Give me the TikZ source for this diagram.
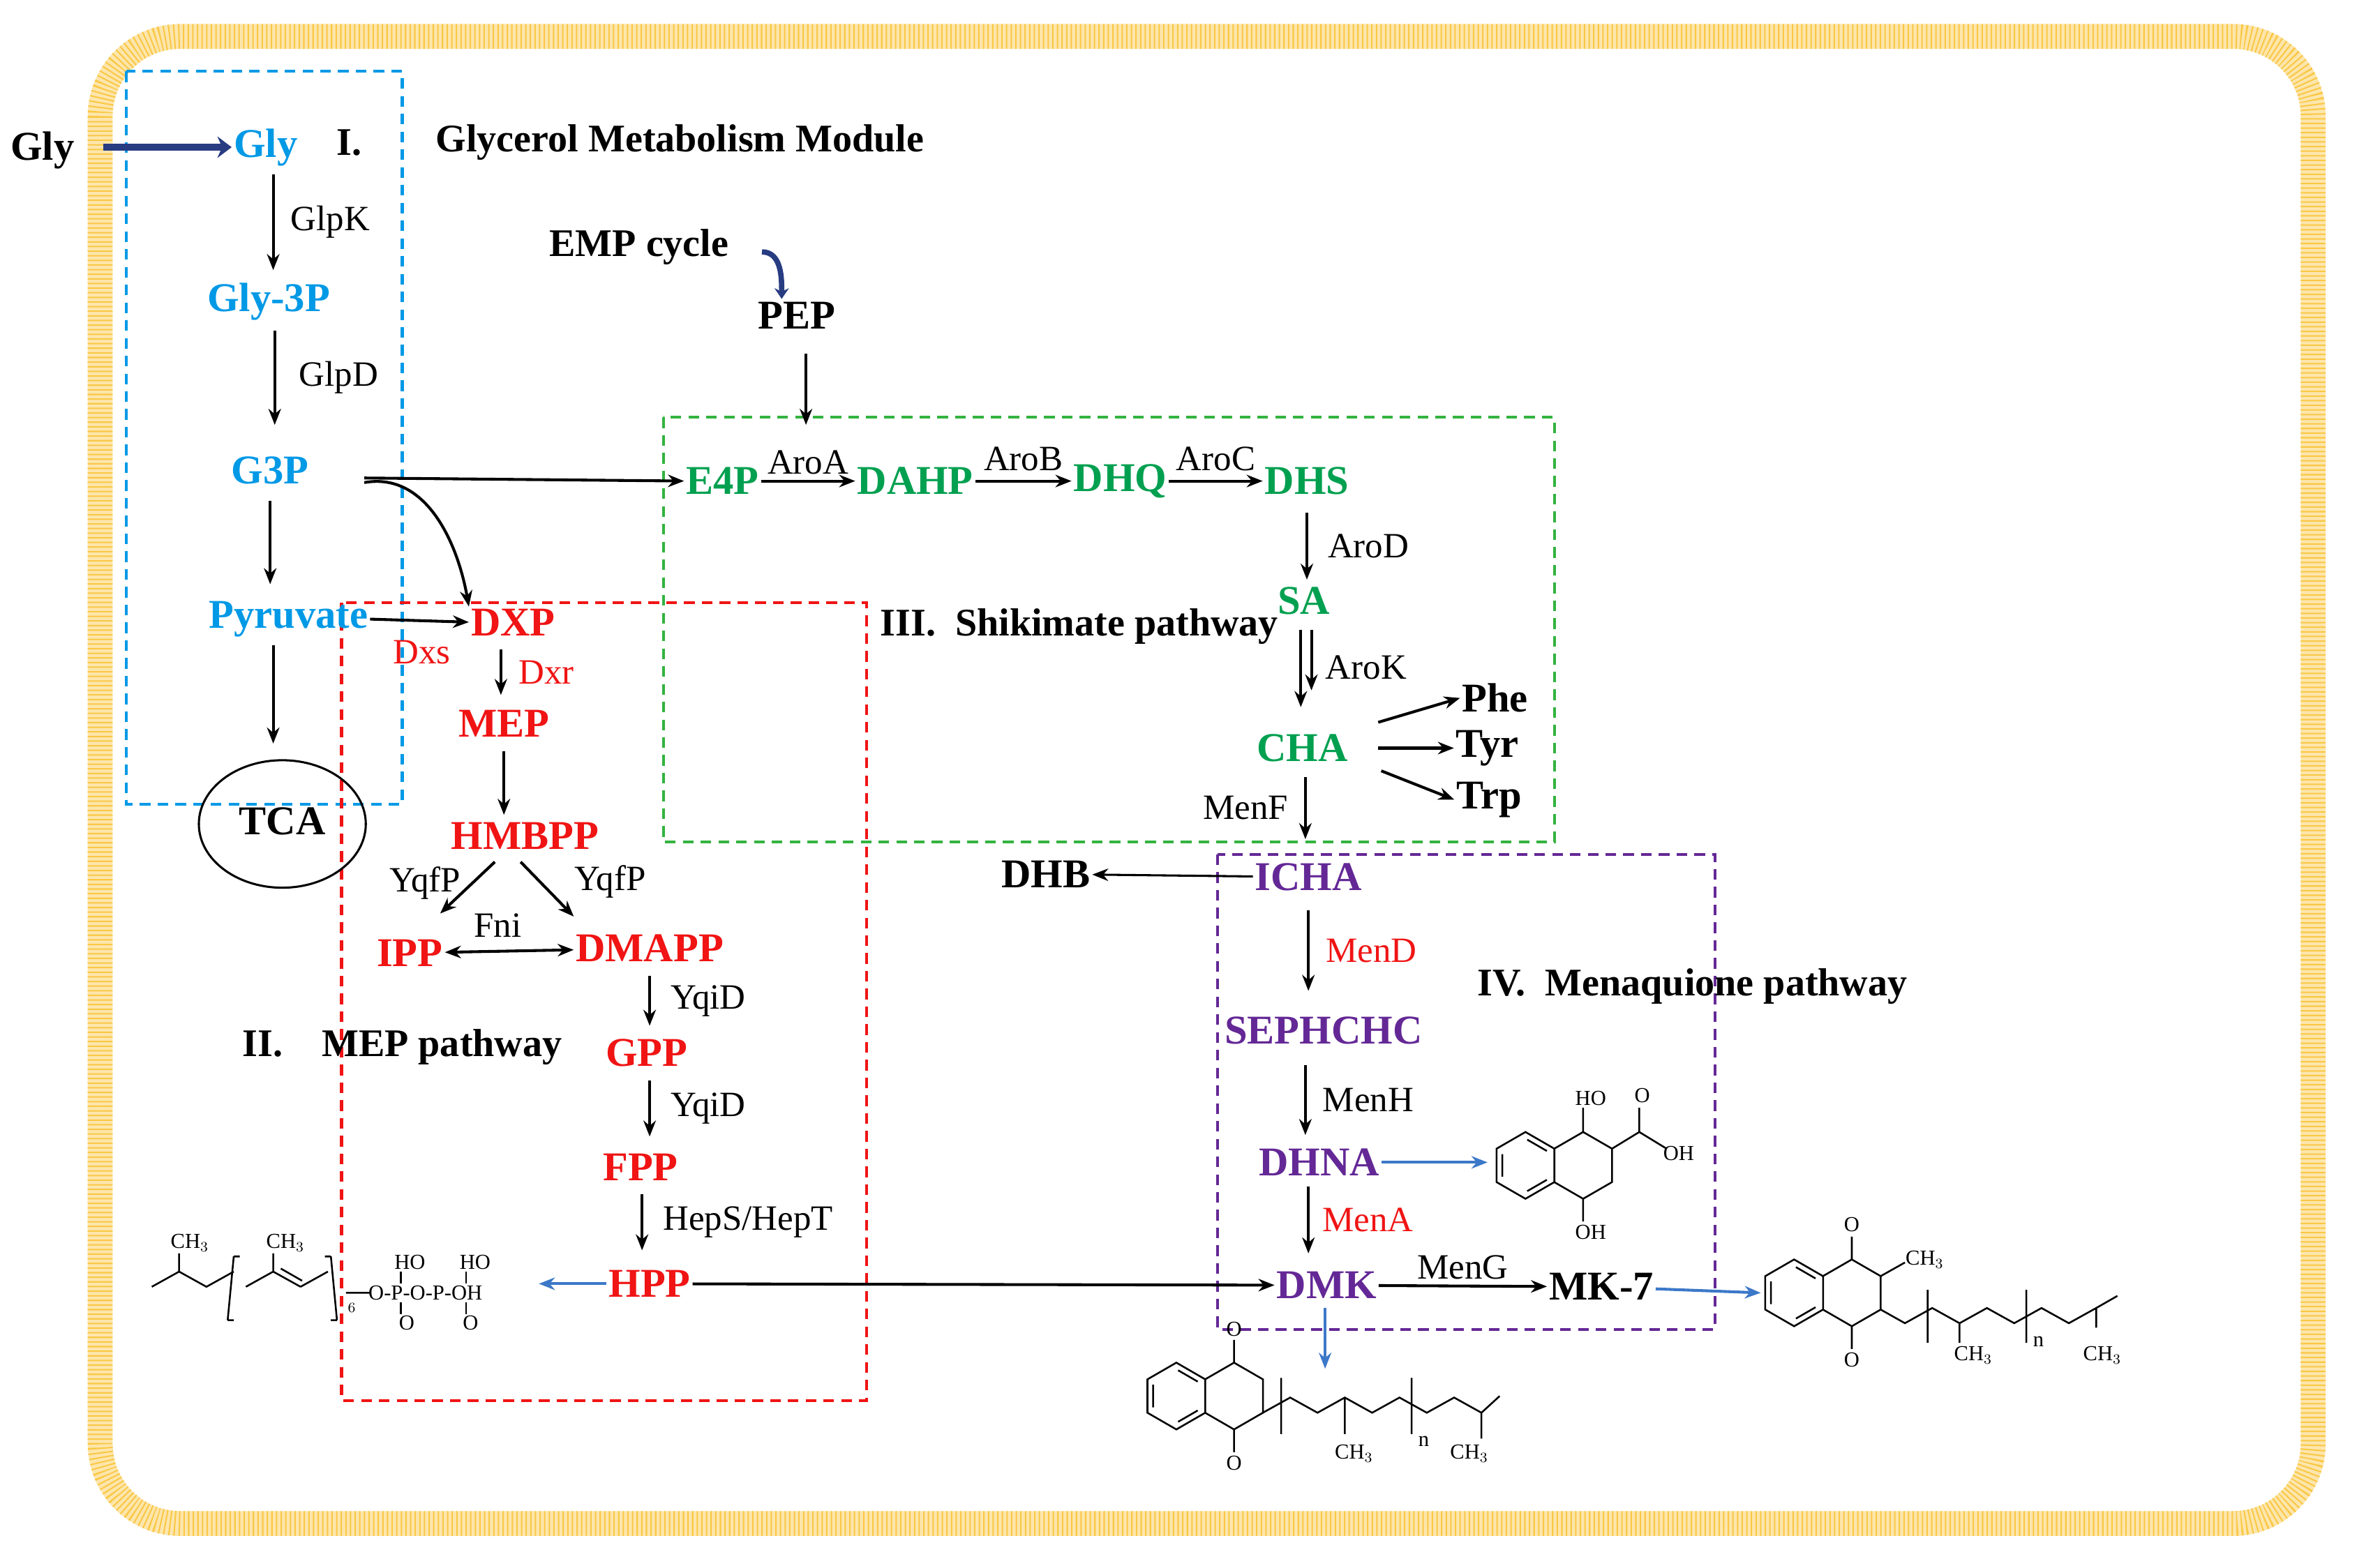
\documentclass[tikz,border=0pt]{standalone}
\usepackage{fontspec}
\setmainfont{Liberation Serif}
\usetikzlibrary{arrows.meta}
\definecolor{cblue}{RGB}{0,153,230}
\definecolor{cgreen}{RGB}{0,160,80}
\definecolor{cred}{RGB}{240,20,20}
\definecolor{cpurp}{RGB}{100,40,150}
\definecolor{navy}{RGB}{40,60,130}
\definecolor{arrblue}{RGB}{60,120,200}
\definecolor{gold}{RGB}{250,200,70}
\begin{document}
\begin{tikzpicture}[x=0.3mm,y=-0.3mm,
 met/.style={font=\fontsize{23}{25}\selectfont\bfseries,inner sep=1pt},
 enz/.style={font=\fontsize{20}{22}\selectfont,inner sep=1pt},
 ttl/.style={font=\fontsize{22}{24}\selectfont\bfseries,inner sep=1pt},
 chem/.style={font=\fontsize{12}{13}\selectfont,inner sep=0.5pt},
 ar/.style={-{Stealth[length=9pt,width=7pt]},line width=1.6pt},
 bar/.style={-{Stealth[length=9pt,width=7pt]},line width=1.6pt,arrblue},
 box/.style={dashed,line width=1.6pt,dash pattern=on 6pt off 4pt},
 bond/.style={line width=1pt}]
\useasboundingbox (0,0) rectangle (1568,1027);
% frame
\draw[gold!45,line width=14pt,rounded corners=45] (66,24) rectangle (1524,1004);
\draw[gold,line width=14pt,rounded corners=45,dash pattern=on 0.8pt off 1.8pt] (66,24) rectangle (1524,1004);
% boxes
\draw[box,cblue] (83,47) rectangle (265,530);
\draw[box,cgreen!80!yellow] (437,275) rectangle (1024,555);
\draw[box,cred] (225,397) rectangle (571,923);
\draw[box,cpurp] (802,563) rectangle (1130,876);
% module I
\node[met] (glyo) at (28,99) {Gly};
\node[met,cblue] (gly) at (175,97) {Gly};
\draw[navy,line width=4pt,-{Stealth[length=8pt,width=12pt]}] (68,97) -- (gly);
\node[ttl] at (230,94) {I.};
\node[ttl] at (448,94) {Glycerol Metabolism Module};
\node[met,cblue] (gly3p) at (177,199) {Gly-3P};
\node[met,cblue] (g3p) at (178,310) {G3P};
\node[met,cblue] (pyr) at (190,408) {Pyruvate};
\draw[line width=1.2pt] (186,543) ellipse (55 and 42);
\node[met] (tca) at (186,541) {TCA};
\draw[ar] (180,115) -- (180,178) node[midway,right=8pt,enz,black]{GlpK};
\draw[ar] (181,218) -- (181,280) node[midway,right=12pt,enz]{GlpD};
\draw[ar] (178,330) -- (178,385);
\draw[ar] (180,425) -- (180,490);
% EMP
\node[ttl] (emp) at (421,163) {EMP cycle};
\node[met] (pep) at (525,208) {PEP};
\draw[navy,line width=3pt,-{Stealth[length=6pt,width=8pt]}] (502,166) to[out=0,in=90] (515,197);
\draw[ar] (531,233) -- (531,280);
% shikimate
\node[met,cgreen] (e4p) at (476,317) {E4P};
\node[met,cgreen] (dahp) at (603,317) {DAHP};
\node[met,cgreen] (dhq) at (738,317) {DHQ};
\node[met,cgreen] (dhs) at (861,317) {DHS};
\node[met,cgreen] (sa) at (859,396) {SA};
\node[met,cgreen] (cha) at (858,493) {CHA};
\node[met] (phe) at (985,460) {Phe};
\node[met] (tyr) at (980,493) {Tyr};
\node[met] (trp) at (981,527) {Trp};
\draw[ar] (240,315) -- (e4p.west);
\draw[ar] (e4p) -- (dahp) node[midway,above=2pt,enz]{AroA};
\draw[ar] (dahp) -- (dhq) node[midway,above=4pt,enz]{AroB};
\draw[ar] (dhq) -- (dhs) node[midway,above=4pt,enz]{AroC};
\draw[ar] (861,338) -- (861,382) node[midway,right=10pt,enz]{AroD};
\draw[ar] (857,415) -- (857,466);
\draw[ar] (864,415) -- (864,455);
\node[enz] at (900,440) {AroK};
\node[ttl] at (711,413) {III.\ \ Shikimate pathway};
\draw[ar] (908,476) -- (phe.west);
\draw[ar] (908,493) -- (tyr.west);
\draw[ar] (910,508) -- (trp.west);
% menaquinone
\node[met,cpurp] (icha) at (862,578) {ICHA};
\node[met] (dhb) at (689,576) {DHB};
\node[met,cpurp] (seph) at (872,679) {SEPHCHC};
\node[met,cpurp] (dhna) at (869,766) {DHNA};
\node[met,cpurp] (dmk) at (874,847) {DMK};
\node[met] (mk7) at (1055,848) {MK-7};
\draw[ar] (860,512) -- (860,553) node[midway,left=8pt,enz]{MenF};
\draw[ar,line width=1.2pt] (icha) -- (dhb);
\draw[ar] (862,600) -- (862,653) node[midway,right=8pt,enz,cred]{MenD};
\node[ttl] at (1115,650) {IV.\ \ Menaquione pathway};
\draw[ar] (860,702) -- (860,748) node[midway,right=8pt,enz]{MenH};
\draw[ar] (862,782) -- (862,826) node[midway,right=6pt,enz,cred]{MenA};
\draw[ar] (dmk) -- (mk7) node[midway,above=2pt,enz]{MenG};
% MEP
\node[met,cred] (dxp) at (338,410) {DXP};
\node[met,cred] (mep) at (332,477) {MEP};
\node[met,cred] (hmb) at (346,551) {HMBPP};
\node[met,cred] (ipp) at (270,628) {IPP};
\node[met,cred] (dma) at (428,625) {DMAPP};
\node[met,cred] (gpp) at (426,694) {GPP};
\node[met,cred] (fpp) at (422,769) {FPP};
\node[met,cred] (hpp) at (428,846) {HPP};
\draw[ar] (240,318) to[out=10,in=100] (dxp.north west);
\draw[ar] (pyr.east) -- (dxp.west);
\node[enz,cred] at (278,430) {Dxs};
\draw[ar] (330,428) -- (330,458);
\node[enz,cred] at (360,443) {Dxr};
\draw[ar] (332,495) -- (332,537);
\draw[ar] (326,568) -- (290,602);
\draw[ar] (343,568) -- (378,604);
\node[enz] at (280,582) {YqfP};
\node[enz] at (402,581) {YqfP};
\node[enz] at (328,610) {Fni};
\draw[{Stealth[length=9pt,width=7pt]}-{Stealth[length=9pt,width=7pt]},line width=1.6pt] (ipp) -- (dma);
\draw[ar] (428,643) -- (428,676) node[midway,right=10pt,enz]{YqiD};
\node[ttl] at (265,690) {II.\ \ \ \ MEP pathway};
\draw[ar] (428,712) -- (428,749) node[midway,right=10pt,enz]{YqiD};
\draw[ar] (423,787) -- (423,824) node[midway,right=10pt,enz]{HepS/HepT};
\draw[ar] (hpp) -- (dmk);
% blue arrows
\draw[bar] (hpp) -- (355,846);
\draw[bar] (dhna) -- (980,766);
\draw[bar] (mk7) -- (1160,852);
\draw[bar] (873,862) -- (873,902);
% HPP structure
\draw[bond] (100,848) -- (118,838) -- (118,826) (118,838) -- (136,848) -- (154,838) (154,828)--(150,870) (150,870)--(154,870) (154,828)--(158,828)
 (162,848)--(180,838)--(180,826) (180,838)--(198,848) (185,836)--(199,844) (198,848)--(216,838) (218,828)--(222,870) (218,828)--(214,828) (222,870)--(218,870)
 (228,852)--(244,852);
\node[chem] at (125,819) {CH$_3$};
\node[chem] at (188,819) {CH$_3$};
\node[chem] at (232,862) {$_6$};
\node[chem,anchor=west] at (242,852) {O-P-O-P-OH};
\node[chem] at (270,832) {HO};
\node[chem] at (313,832) {HO};
\draw[bond] (264,846)--(264,838) (307,846)--(307,838) (264,858)--(264,866) (307,858)--(307,866);
\node[chem] at (268,872) {O};
\node[chem] at (310,872) {O};
% DHNA structure
\begin{scope}[bond]
\draw[shift={(1005,768)}] (30:22)--(90:22)--(150:22)--(210:22)--(270:22)--(330:22)--cycle;
\draw[shift={(1043,768)}] (150:22)--(90:22)--(30:22)--(330:22)--(270:22)--(210:22);
\draw (1043,746)--(1043,730) (1043,790)--(1043,805) (1062,757)--(1080,746)--(1080,730) (1080,746)--(1098,757);
\draw[shift={(1005,768)}] (34:17)--(86:17) (154:17)--(206:17) (274:17)--(326:17);
\end{scope}
\node[chem] at (1048,724) {HO};
\node[chem] at (1082,722) {O};
\node[chem] at (1106,760) {OH};
\node[chem] at (1048,812) {OH};
% MK-7 structure
\begin{scope}[bond]
\draw[shift={(1182,852)}] (30:22)--(90:22)--(150:22)--(210:22)--(270:22)--(330:22)--cycle;
\draw[shift={(1182,852)}] (34:17)--(86:17) (154:17)--(206:17) (274:17)--(326:17);
\draw[shift={(1220,852)}] (150:22)--(90:22)--(30:22)--(330:22)--(270:22)--(210:22);
\draw (1220,830)--(1220,815) (1220,874)--(1220,889) (1239,841)--(1255,832) (1239,863)--(1255,872)--(1273,862)--(1291,872)--(1309,862)--(1327,872)--(1345,862)--(1363,872)--(1381,862)
 (1291,872)--(1291,885) (1381,862)--(1395,854) (1381,862)--(1381,875) (1270,850)--(1270,885) (1335,850)--(1335,885);
\end{scope}
\node[chem] at (1220,807) {O}; \node[chem] at (1220,896) {O};
\node[chem] at (1268,830) {CH$_3$};
\node[chem] at (1300,893) {CH$_3$}; \node[chem] at (1343,884) {n}; \node[chem] at (1385,893) {CH$_3$};
% DMK structure
\begin{scope}[bond]
\draw[shift={(775,920)}] (30:22)--(90:22)--(150:22)--(210:22)--(270:22)--(330:22)--cycle;
\draw[shift={(775,920)}] (34:17)--(86:17) (154:17)--(206:17) (274:17)--(326:17);
\draw[shift={(813,920)}] (150:22)--(90:22)--(30:22)--(330:22)--(270:22)--(210:22);
\draw (813,898)--(813,883) (813,942)--(813,957) (832,931)--(850,921)--(868,931)--(886,921)--(904,931)--(922,921)--(940,931)--(958,921)--(976,931)
 (886,921)--(886,945) (976,931)--(988,920) (976,931)--(976,948) (844,908)--(844,945) (930,908)--(930,945);
\end{scope}
\node[chem] at (813,876) {O}; \node[chem] at (813,964) {O};
\node[chem] at (892,958) {CH$_3$}; \node[chem] at (938,950) {n}; \node[chem] at (968,958) {CH$_3$};
\end{tikzpicture}
\end{document}
